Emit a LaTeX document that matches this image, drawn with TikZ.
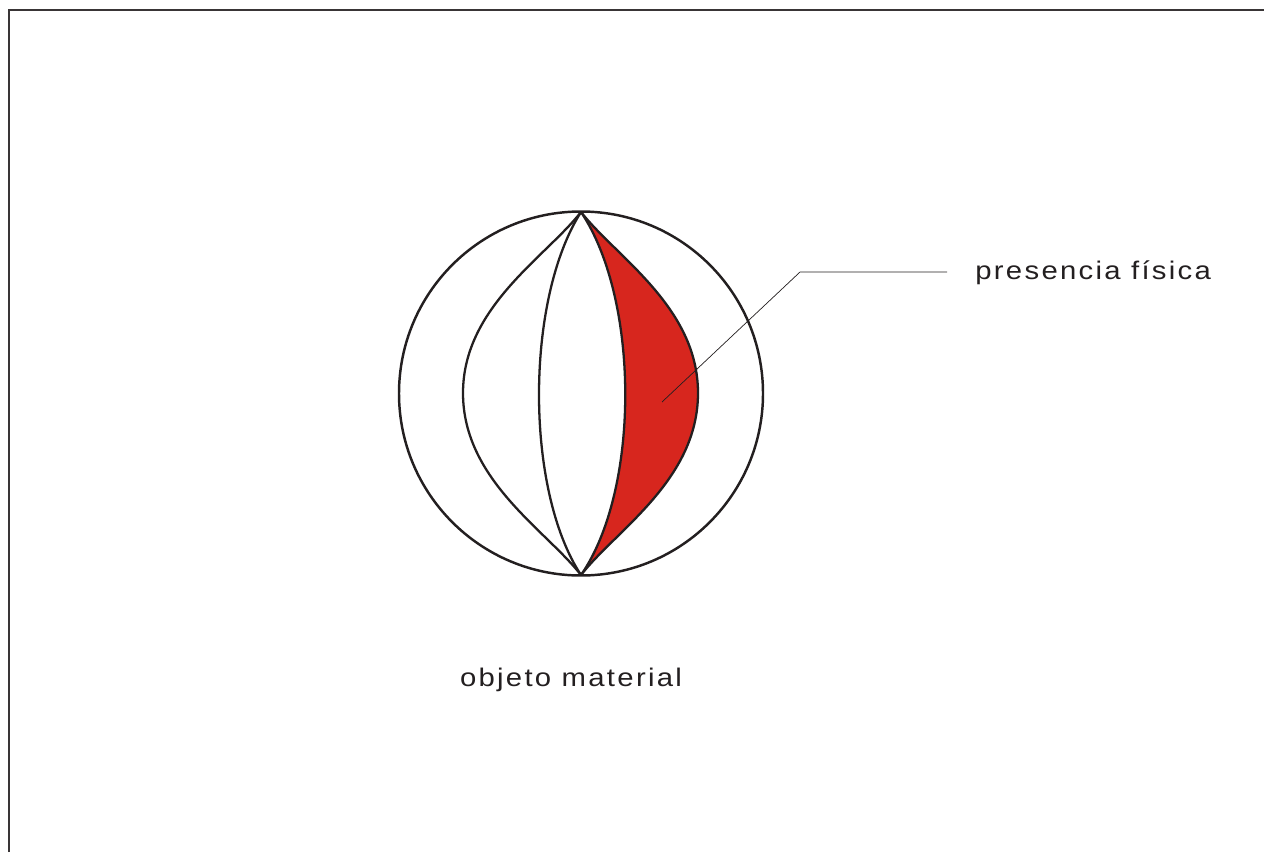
\documentclass[tikz,border=0pt]{standalone}
\usepackage{fontspec}
\setmainfont{Liberation Sans}[FakeStretch=1.15, LetterSpace=9]
\usetikzlibrary{positioning}
\definecolor{ink}{RGB}{35,31,32}
\definecolor{rojo}{RGB}{215,38,30}
\tikzset{
    contorno/.style={draw=ink, line width=1.4pt},
    gajo/.style={draw=ink, line width=1.3pt},
    guia/.style={draw=ink, line width=0.4pt},
    rotulo/.style={font=\fontsize{14.5}{16}\selectfont, text=ink, inner sep=0pt}
}
\begin{document}
\begin{tikzpicture}[x=0.02cm, y=-0.02cm]
    \useasboundingbox (0,0) rectangle (1264,852);
    % marco
    \draw[ink!90, line width=1pt] (9,852) -- (9,10) -- (1264,10);

    % polos de la esfera
    \coordinate (norte) at (581,212);
    \coordinate (sur) at (581,575);

    % gajo rojo
    \fill[rojo] (norte) .. controls (640,300) and (640,490) .. (sur)
        .. controls (616,530) and (698,480) .. (698,393)
        .. controls (698,307) and (616,257) .. (norte) -- cycle;

    % esfera y meridianos
    \draw[contorno] (581,393.5) circle (182);
    \draw[gajo] (norte) .. controls (546,257) and (463,307) .. (463,393)
        .. controls (463,480) and (546,530) .. (sur);
    \draw[gajo] (norte) .. controls (525,300) and (525,490) .. (sur);
    \draw[gajo] (norte) .. controls (640,300) and (640,490) .. (sur);
    \draw[gajo] (norte) .. controls (616,257) and (698,307) .. (698,393)
        .. controls (698,480) and (616,530) .. (sur);

    % rotulos
    \node[rotulo, anchor=west] (fisica) at (975,273) {presencia física};
    \node[rotulo] (objeto) at (571,680) {objeto material};

    % linea de referencia
    \coordinate (punta) at (662,402);
    \coordinate (codo) at (800,272);
    \draw[guia] (punta) -- (codo) -- ([xshift=-28*0.02cm]fisica.west |- codo);
\end{tikzpicture}
\end{document}
